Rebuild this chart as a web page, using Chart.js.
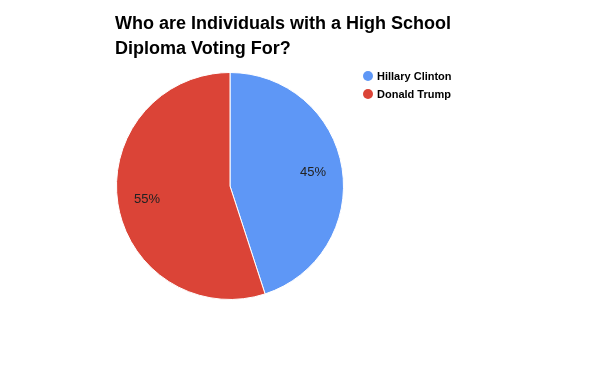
<!DOCTYPE html>
<html>
<head>
<meta charset="utf-8">
<script src="https://cdn.jsdelivr.net/npm/chart.js@4/dist/chart.umd.min.js"></script>
<style>
  html, body { margin:0; padding:0; background:#fff; }
  #wrap { position:relative; width:600px; height:371px; }
  canvas { position:absolute; left:0; top:0; }
  #title { position:absolute; left:115px; top:11px; font:bold 18px "Liberation Sans", Arial, sans-serif; line-height:25px; color:#000; }
  #legend { position:absolute; left:363px; top:69px; font:bold 11px "Liberation Sans", Arial, sans-serif; color:#000; }
  .item { height:18px; line-height:14px; white-space:nowrap; }
  .dot { display:inline-block; width:10px; height:10px; border-radius:50%; vertical-align:-1px; margin-right:4px; }
</style>
</head>
<body>
<div id="wrap">
  <canvas id="c" width="600" height="371"></canvas>
  <div id="title"></div>
  <div id="legend"></div>
</div>
<script>
const titleLines = ["Who are Individuals with a High School", "Diploma Voting For?"];
const categories = ["Hillary Clinton", "Donald Trump"];
const values = [45, 55];
const colors = ["#5e97f6", "#db4437"];

document.getElementById('title').innerHTML = titleLines.join('<br>');
document.getElementById('legend').innerHTML = categories.map((c, i) =>
  '<div class="item"><span class="dot" style="background:' + colors[i] + '"></span>' + c + '</div>').join('');

const labelPlugin = {
  id: 'pctLabels',
  afterDatasetsDraw(chart) {
    const ctx = chart.ctx;
    const meta = chart.getDatasetMeta(0);
    const total = values.reduce((a, b) => a + b, 0);
    ctx.save();
    ctx.font = '13px "Liberation Sans", Arial, sans-serif';
    ctx.fillStyle = '#222';
    ctx.textAlign = 'center';
    ctx.textBaseline = 'middle';
    meta.data.forEach((arc, i) => {
      const p = arc.getProps(['x', 'y', 'startAngle', 'endAngle', 'outerRadius'], true);
      const mid = (p.startAngle + p.endAngle) / 2;
      const r = p.outerRadius * 0.74;
      ctx.fillText(Math.round(values[i] / total * 100) + '%', p.x + Math.cos(mid) * r, p.y + Math.sin(mid) * r);
    });
    ctx.restore();
  }
};

new Chart(document.getElementById('c'), {
  type: 'pie',
  data: {
    labels: categories,
    datasets: [{ data: values, backgroundColor: colors, borderColor: '#ffffff', borderWidth: 1 }]
  },
  options: {
    responsive: false,
    animation: false,
    layout: { padding: { left: 116, right: 256, top: 71, bottom: 70 } },
    plugins: { legend: { display: false }, tooltip: { enabled: false }, title: { display: false } }
  },
  plugins: [labelPlugin]
});
</script>
</body>
</html>
